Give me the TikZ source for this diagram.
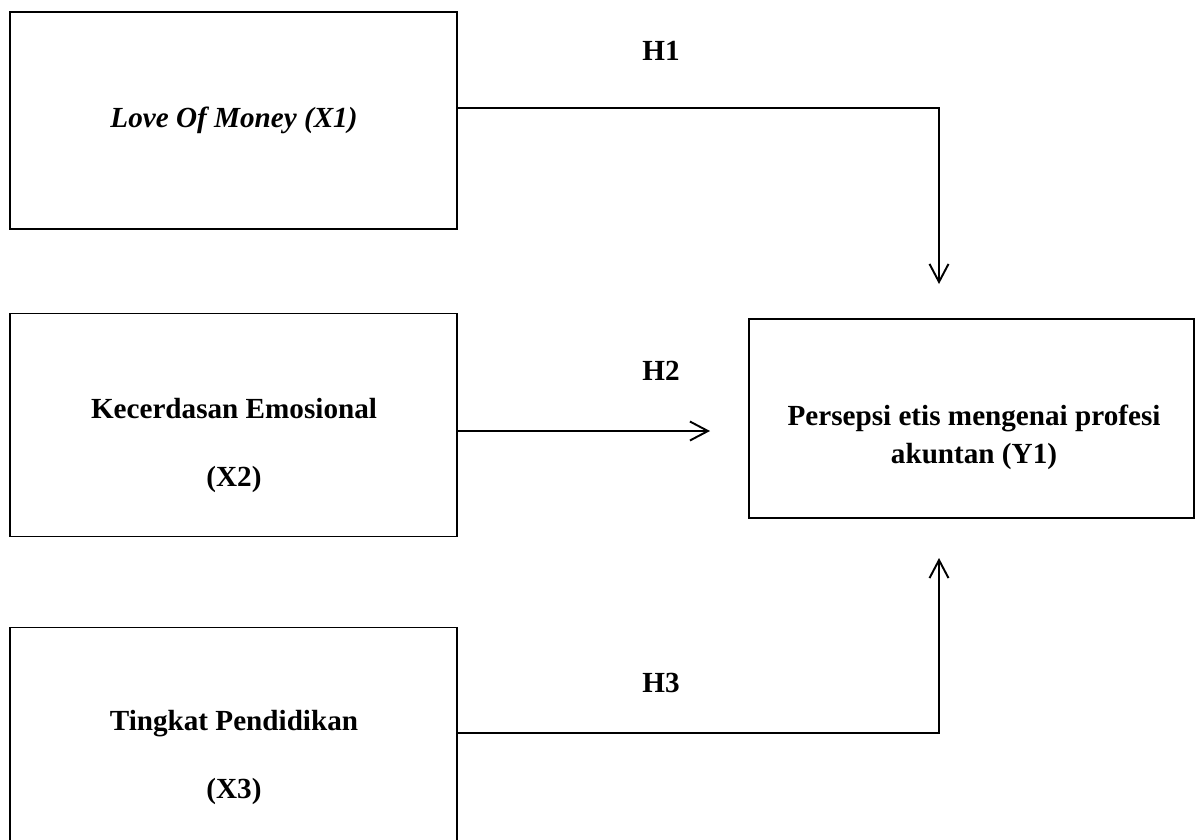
\documentclass[tikz,border=0pt]{standalone}
\usepackage{fontspec}
\setmainfont{Liberation Serif}
\usetikzlibrary{arrows.meta, positioning}

\begin{document}
\begin{tikzpicture}[
      x=0.02cm, y=-0.02cm,
      var/.style={rectangle, draw=black, line width=0.8pt,
                  minimum width=8.94cm, minimum height=4.46cm, inner sep=0pt},
      txt/.style={font=\fontsize{16.6}{20}\selectfont\bfseries, inner sep=0pt, anchor=base},
      hyp/.style={font=\fontsize{16.6}{20}\selectfont\bfseries, inner sep=0pt},
      arr/.style={-{Straight Barb[length=0.36cm, width=0.38cm]}, line width=1.1pt, draw=black}
    ]
    \clip (0,0) rectangle (1195,839);
    % boxes
    \node[var, minimum height=4.34cm] (x1) at (233.5,120.5) {};
    \node[var, below=1.66cm of x1] (x2) {};
    \node[var, below=1.8cm of x2] (x3) {};
    \node[var, minimum width=8.9cm, minimum height=3.98cm] (y1) at (971.5,418.5) {};

    % texts in the boxes
    \node[txt] (t1) at (234,127) {\textit{Love Of Money (X1)}};
    \node[txt] (t2a) at (234,418) {Kecerdasan Emosional};
    \node[txt] (t2b) at (234,486) {(X2)};
    \node[txt] (t3a) at (234,730) {Tingkat Pendidikan};
    \node[txt] (t3b) at (234,798) {(X3)};
    \node[txt] (ya) at (974,425) {Persepsi etis mengenai profesi};
    \node[txt] (yb) at (974,463) {akuntan (Y1)};

    % hypotheses
    \node[hyp] (h1) at (661,51) {H1};
    \node[hyp] (h2) at (661,371) {H2};
    \node[hyp] (h3) at (661,683) {H3};

    \coordinate (h1turn) at (939,108);
    \coordinate (h1tip) at (939,284);
    \coordinate (h2tip) at (710,431);
    \coordinate (h3turn) at (939,733);
    \coordinate (h3tip) at (939,558);
    \draw[arr] (x1.east |- h1turn) -- (h1turn) -- (h1tip);
    \draw[arr] (x2.east |- h2tip) -- (h2tip);
    \draw[arr] (x3.east |- h3turn) -- (h3turn) -- (h3tip);
  \end{tikzpicture}
\end{document}
